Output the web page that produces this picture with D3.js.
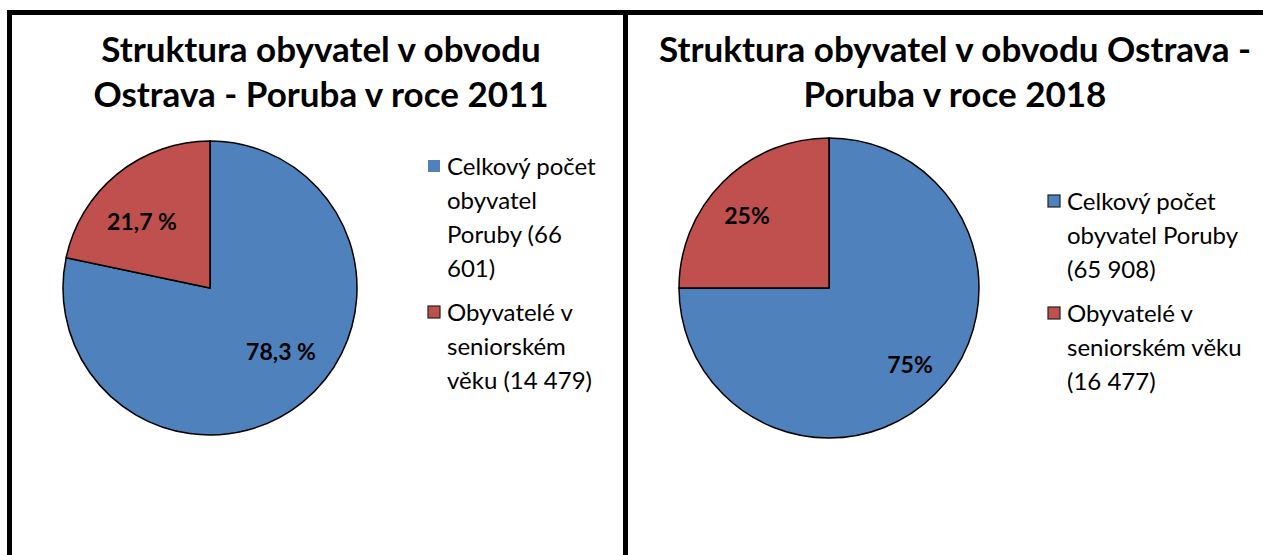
<!DOCTYPE html>
<html>
<head>
<meta charset="utf-8">
<script src="https://cdn.jsdelivr.net/npm/d3@7"></script>
<style>
  body { margin: 0; background: #fff; }
  svg { display: block; }
</style>
</head>
<body>
<svg id="drawing_region"></svg>
<script>
// data
const categories = ['Celkový počet obyvatel Poruby', 'Obyvatelé v seniorském věku'];
const values2011 = [78.3, 21.7];
const values2018 = [75, 25];
const sliceLabels2011 = ['78,3 %', '21,7 %'];
const sliceLabels2018 = ['75%', '25%'];
const titles2011 = ['Struktura obyvatel v obvodu', 'Ostrava - Poruba v roce 2011'];
const titles2018 = ['Struktura obyvatel v obvodu Ostrava -', 'Poruba v roce 2018'];
const legend2011 = [['Celkový počet', 'obyvatel', 'Poruby (66', '601)'], ['Obyvatelé v', 'seniorském', 'věku (14 479)']];
const legend2018 = [['Celkový počet', 'obyvatel Poruby', '(65 908)'], ['Obyvatelé v', 'seniorském věku', '(16 477)']];

const colors = ['#4F81BD', '#C0504D'];
const font = 'Lato, "Open Sans", sans-serif';

const svg = d3.select('#drawing_region')
    .attr('width', 1263)
    .attr('height', 555);

svg.append('rect').attr('width', 1263).attr('height', 555).attr('fill', '#fff');

class PieChart {
    constructor(config) {
        this.config = config;
        this.init();
    }

    init() {
        let self = this;
        const c = self.config;

        // frame
        svg.append('rect')
            .attr('x', c.frame.x).attr('y', c.frame.y)
            .attr('width', c.frame.w).attr('height', c.frame.h)
            .attr('fill', 'none')
            .attr('stroke', '#000')
            .attr('stroke-width', 5);

        svg.append('text')
            .attr('x', c.title_x)
            .attr('y', c.title_y)
            .attr('text-anchor', 'middle')
            .style('font-family', font)
            .style('font-size', '35px')
            .style('font-weight', 'bold')
            .selectAll('tspan')
            .data(c.title)
            .join('tspan')
            .attr('x', c.title_x)
            .attr('dy', (d, i) => i === 0 ? 0 : 45)
            .text(d => d);

        self.chart = svg.append('g')
            .attr('transform', `translate(${c.cx}, ${c.cy})`);

        self.color = d3.scaleOrdinal().domain(d3.range(categories.length)).range(colors);
    }

    render() {
        let self = this;
        const c = self.config;

        const pie = d3.pie().sort(null).value(d => d)
            .startAngle(0).endAngle(2 * Math.PI);
        const arc = d3.arc().innerRadius(0).outerRadius(c.radius);

        self.chart.selectAll('path')
            .data(pie(c.values))
            .join('path')
            .attr('d', arc)
            .attr('fill', d => self.color(d.index))
            .attr('stroke', '#000')
            .style('stroke-width', '1.5px');

        self.chart.selectAll('text.lbl')
            .data(pie(c.values))
            .join('text')
            .attr('class', 'lbl')
            .attr('x', (d, i) => c.label_pos[i][0])
            .attr('y', (d, i) => c.label_pos[i][1])
            .attr('text-anchor', 'middle')
            .attr('dy', '0.35em')
            .style('font-family', font)
            .style('font-size', '23px')
            .style('font-weight', 'bold')
            .text((d, i) => c.labels[i]);

        // legend
        const lg = svg.append('g')
            .attr('transform', `translate(${c.legend_x}, ${c.legend_y})`);
        let y = 0;
        c.legend.forEach((lines, i) => {
            const item = lg.append('g').attr('transform', `translate(0, ${y})`);
            item.append('rect')
                .attr('x', 0).attr('y', -15)
                .attr('width', 12).attr('height', 12)
                .attr('fill', colors[i])
                .attr('stroke', c.box_stroke[i] ? '#222' : 'none')
                .attr('stroke-width', 1.2);
            item.append('text')
                .style('font-family', font)
                .style('font-size', '24px')
                .selectAll('tspan')
                .data(lines)
                .join('tspan')
                .attr('x', 19)
                .attr('y', (d, j) => j * 34)
                .text(d => d);
            y += lines.length * 34 + 10;
        });
    }
}

const left = new PieChart({
    frame: {x: 9.5, y: 12.5, w: 616, h: 560},
    title: titles2011, title_x: 321, title_y: 62,
    cx: 210, cy: 288, radius: 147,
    values: values2011, labels: sliceLabels2011,
    label_pos: [[71, 64], [-68, -66]],
    legend: legend2011, legend_x: 428, legend_y: 175,
    box_stroke: [false, true]
});
left.render();

const right = new PieChart({
    frame: {x: 625.5, y: 12.5, w: 660, h: 560},
    title: titles2018, title_x: 955, title_y: 62,
    cx: 829, cy: 288, radius: 150,
    values: values2018, labels: sliceLabels2018,
    label_pos: [[81, 77], [-82, -72]],
    legend: legend2018, legend_x: 1048, legend_y: 210,
    box_stroke: [true, true]
});
right.render();
</script>
</body>
</html>
